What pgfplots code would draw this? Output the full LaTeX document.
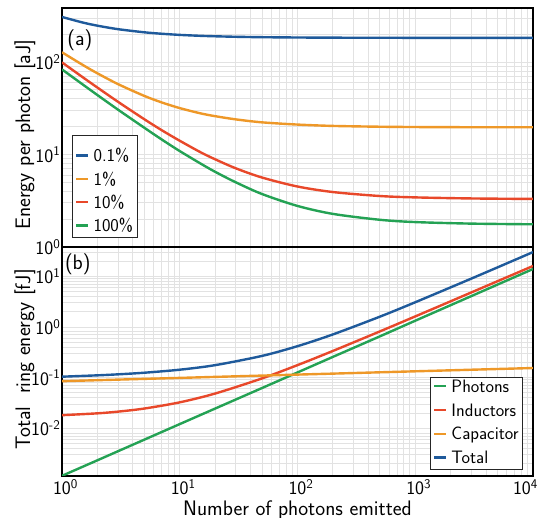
\documentclass[border=0pt]{standalone}
\usepackage{fontspec}
\usepackage{pgfplots}
\pgfplotsset{compat=1.18}
\renewcommand{\familydefault}{\sfdefault}

\definecolor{cblue}{RGB}{31,90,155}
\definecolor{corange}{RGB}{238,152,40}
\definecolor{cred}{RGB}{232,72,42}
\definecolor{cgreen}{RGB}{36,162,84}
\definecolor{gridgray}{RGB}{226,226,226}

% powers of ten: y labels take the whole width, x labels are centred on the mantissa
\newcommand{\tenp}[1]{10\textsuperscript{#1}}
\newcommand{\tenx}[1]{10\rlap{\textsuperscript{#1}}}

% energy per emitted photon [aJ] for four efficiencies
\pgfplotstableread{
N      e01    e1     e10    e100
1      308    127.7  99.3   83.35
1.5    268    93.2   68.6   57.3
2      247.7  75.6   53.0   44.0
3      227    57.7   37.1   30.5
5      210.1  43.1   24.1   19.5
7      202.7  36.7   18.4   14.6
10     197    31.8   14.1   10.9
15     192.5  27.9   10.6   8.0
20     190.3  26.0   8.88   6.5
30     187.9  24.0   7.09   5.0
50     186    22.3   5.64   3.74
100    184.6  21.1   4.51   2.78
200    183.8  20.4   3.93   2.28
500    183.3  20.0   3.56   1.97
1000   183.2  19.85  3.44   1.86
3000   183.1  19.75  3.35   1.79
10000  183    19.72  3.31   1.76
}\perphoton

% energy stored in the ring [fJ]
\pgfplotstableread{
N      P        L       C       T
1      0.00115  0.0181  0.0850  0.1043
2      0.00233  0.0197  0.0889  0.1109
3      0.00353  0.0213  0.0913  0.1161
5      0.00595  0.0245  0.0944  0.1249
10     0.01208  0.0325  0.0987  0.1433
20     0.0245   0.0485  0.1033  0.1763
50     0.0623   0.0965  0.1096  0.2684
100    0.1265   0.1765  0.1147  0.4177
200    0.2568   0.3365  0.1199  0.7132
500    0.652    0.8165  0.1273  1.596
1000   1.329    1.6165  0.1332  3.079
3000   4.081    4.82    0.1431  9.044
10000  13.95    16.02   0.1547  30.12
}\ringenergy

\pgfplotsset{
  every axis/.append style={
    axis line style={line width=2.8pt, black},
    major grid style={gridgray, line width=0.9pt},
    minor grid style={gridgray, line width=0.9pt},
    major tick length=0pt, minor tick length=0pt,
    tick label style={font=\fontsize{19}{22}\selectfont},
    yticklabel style={xshift=-1.5pt, inner sep=0pt},
    label style={font=\fontsize{21}{25}\selectfont},
  },
  every axis y label/.style={rotate=90, anchor=center},
  every axis plot/.append style={line width=2.4pt},
}
\tikzset{notelabel/.style={anchor=base west, inner sep=0pt, font=\fontsize{21}{25}\selectfont}}

\begin{document}
\begin{tikzpicture}

% (b) total ring energy
\begin{loglogaxis}[
  scale only axis, width=471pt, height=229pt,
  at={(62pt,42pt)}, anchor=south west,
  xmin=1, xmax=10000, ymin=0.00114, ymax=38,
  grid=both, no markers, legend cell align=left,
  xtick={1,10,100,1000,10000},
  minor xtick={2,3,...,9,20,30,...,90,200,300,...,900,2000,3000,...,9000},
  xticklabels={\tenx{0},\tenx{1},\tenx{2},\tenx{3},\hspace*{-22pt}\tenx{4}},
  ytick={0.01,0.1,1,10},
  yticklabels={\tenp{-2},\tenp{-1},\tenp{0},\tenp{1}},
  minor ytick={0.002,0.003,...,0.009,0.02,0.03,...,0.09,0.2,0.3,...,0.9,2,3,...,9,20,30},
  xlabel={Number of photons emitted},
  xlabel style={at={(axis description cs:0.5,-0.1747)}, anchor=base},
  ylabel={Total\hspace{0.6em}ring energy [fJ]},
  ylabel style={at={(axis description cs:-0.0786,0.51)}},
  legend image code/.code={\draw[#1] (0pt,1.6pt) -- (12pt,1.6pt);},
  legend style={at={(axis description cs:0.979,0.026)}, anchor=south east,
    font=\fontsize{18}{22}\selectfont, draw=black!85, line width=0.9pt,
    fill=white, inner sep=3pt, row sep=9.2pt, column sep=3pt,
    nodes={inner sep=1pt, text height=11pt, text depth=1.7pt}},
]
\addplot[cgreen, smooth]  table[x=N, y=P] {\ringenergy};
\addlegendentry{Photons}
\addplot[cred, smooth]    table[x=N, y=L] {\ringenergy};
\addlegendentry{Inductors}
\addplot[corange, smooth] table[x=N, y=C] {\ringenergy};
\addlegendentry{Capacitor}
\addplot[cblue, smooth]   table[x=N, y=T] {\ringenergy};
\addlegendentry{Total}
\node[notelabel] at (axis description cs:0.006,0.902) {(b)};
\end{loglogaxis}

% (a) energy per photon
\begin{loglogaxis}[
  scale only axis, width=471pt, height=239pt,
  at={(62pt,271pt)}, anchor=south west,
  xmin=1, xmax=10000, ymin=1, ymax=385,
  grid=both, no markers, legend cell align=left,
  xtick={1,10,100,1000,10000},
  minor xtick={2,3,...,9,20,30,...,90,200,300,...,900,2000,3000,...,9000},
  xticklabels={,,,,},
  ytick={1,10,100},
  yticklabels={\tenp{0},\tenp{1},\tenp{2}},
  minor ytick={2,3,...,9,20,30,...,90,200,300},
  ylabel={Energy per photon [aJ]},
  ylabel style={at={(axis description cs:-0.0786,0.47)}},
  legend image code/.code={\draw[#1] (0pt,-4pt) -- (12pt,-4pt);},
  legend style={at={(axis description cs:0.0206,0.039)}, anchor=south west,
    font=\fontsize{18}{22}\selectfont, draw=black!85, line width=0.9pt,
    fill=white, inner sep=3pt, row sep=-2.2pt, column sep=3pt,
    nodes={inner sep=1pt, text height=22pt, text depth=1.5pt}},
]
\addplot[cblue, smooth]   table[x=N, y=e01]  {\perphoton};
\addlegendentry{0.1\%}
\addplot[corange, smooth] table[x=N, y=e1]   {\perphoton};
\addlegendentry{1\%}
\addplot[cred, smooth]    table[x=N, y=e10]  {\perphoton};
\addlegendentry{10\%}
\addplot[cgreen, smooth]  table[x=N, y=e100] {\perphoton};
\addlegendentry{100\%}
\node[notelabel] at (axis description cs:0.011,0.845) {(a)};
\end{loglogaxis}

\pgfresetboundingbox
\path[use as bounding box] (0pt,0pt) rectangle (542pt,518pt);
\end{tikzpicture}
\end{document}
